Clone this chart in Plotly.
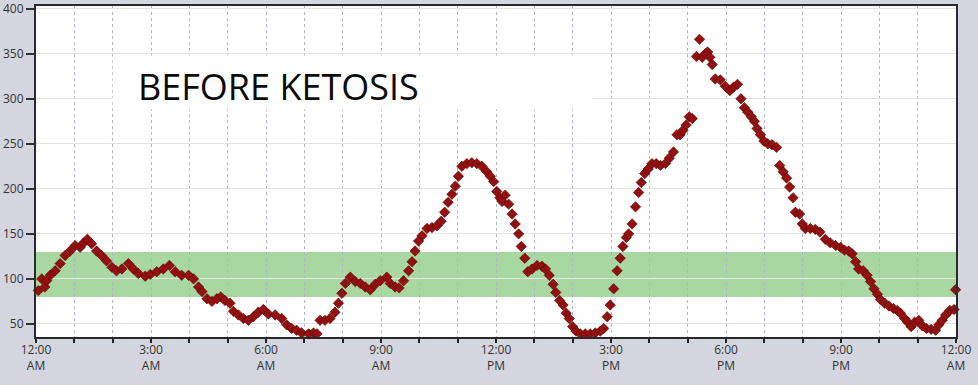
import plotly.graph_objects as go

# Time of day in hours after midnight, and glucose readings (mg/dL)
hours = [0.06, 0.15, 0.23, 0.28, 0.37, 0.50, 0.63, 0.76, 0.89, 1.02, 1.15, 1.24, 1.34, 1.45, 1.58, 1.71, 1.84, 1.98,
         2.10, 2.24, 2.41, 2.54, 2.67, 2.85, 2.98, 3.15, 3.32, 3.48, 3.63, 3.80, 3.98, 4.11, 4.24, 4.33, 4.46, 4.59,
         4.72, 4.82, 4.93, 5.06, 5.15, 5.28, 5.41, 5.54, 5.67, 5.80, 5.93, 6.06, 6.24, 6.41, 6.54, 6.67, 6.80, 6.93,
         7.11, 7.24, 7.33, 7.41, 7.54, 7.67, 7.80, 7.89, 7.98, 8.07, 8.20, 8.33, 8.46, 8.59, 8.72, 8.85, 8.98, 9.15,
         9.24, 9.37, 9.47, 9.59, 9.72, 9.81, 9.89, 9.98, 10.07, 10.20, 10.33, 10.46, 10.57, 10.66, 10.75, 10.85,
         10.94, 11.02, 11.11, 11.24, 11.37, 11.50, 11.63, 11.76, 11.85, 11.94, 12.02, 12.10, 12.16, 12.24, 12.33,
         12.42, 12.50, 12.59, 12.66, 12.75, 12.83, 12.94, 13.07, 13.20, 13.29, 13.39, 13.49, 13.56, 13.66, 13.75,
         13.83, 13.91, 14.00, 14.09, 14.20, 14.33, 14.46, 14.59, 14.72, 14.81, 14.90, 14.98, 15.07, 15.16, 15.24,
         15.31, 15.40, 15.46, 15.55, 15.64, 15.72, 15.79, 15.88, 15.97, 16.07, 16.18, 16.29, 16.42, 16.52, 16.63,
         16.72, 16.80, 16.88, 16.96, 17.04, 17.12, 17.23, 17.31, 17.38, 17.46, 17.52, 17.58, 17.64, 17.72, 17.85,
         17.98, 18.10, 18.20, 18.30, 18.39, 18.48, 18.57, 18.66, 18.74, 18.81, 18.90, 18.99, 19.09, 19.20, 19.32,
         19.40, 19.49, 19.58, 19.66, 19.75, 19.81, 19.92, 19.99, 20.07, 20.20, 20.33, 20.45, 20.59, 20.72, 20.86,
         20.99, 21.09, 21.20, 21.29, 21.38, 21.46, 21.58, 21.68, 21.77, 21.86, 21.95, 22.03, 22.14, 22.25, 22.37,
         22.47, 22.55, 22.66, 22.74, 22.83, 22.92, 23.03, 23.12, 23.23, 23.35, 23.47, 23.55, 23.64, 23.73, 23.84,
         23.95, 23.99]
glucose = [87, 100, 91, 98, 104, 109, 117, 126, 131, 137, 135, 140, 144, 139, 131, 126, 120, 113,
           109, 111, 117, 111, 106, 103, 105, 108, 111, 115, 108, 104, 104, 100, 91, 86, 78, 75,
           78, 80, 76, 73, 64, 60, 56, 54, 58, 63, 66, 61, 60, 56, 49, 45, 43, 40,
           39, 40, 39, 54, 54, 56, 63, 73, 84, 95, 102, 97, 95, 91, 88, 94, 98, 102,
           95, 91, 90, 98, 109, 119, 131, 142, 148, 156, 157, 159, 164, 174, 185, 194,
           203, 214, 225, 228, 229, 228, 225, 219, 214, 208, 197, 190, 186, 193, 183,
           172, 161, 150, 136, 123, 108, 111, 115, 114, 111, 104, 94, 85, 76, 71,
           62, 56, 47, 42, 39, 39, 39, 40, 42, 45, 58, 71, 89, 109, 123,
           136, 146, 150, 161, 180, 196, 207, 217, 222, 228, 228, 226, 228, 234, 241,
           260, 260, 265, 271, 280, 278, 347, 366, 346, 350, 352, 346, 338, 322, 321,
           314, 309, 313, 316, 300, 290, 285, 280, 275, 267, 260, 253, 250, 249, 246,
           226, 219, 212, 202, 190, 174, 172, 161, 156, 156, 155, 152, 144, 140, 137,
           135, 132, 131, 128, 119, 111, 109, 104, 97, 89, 83, 77, 73, 70, 67,
           65, 62, 56, 52, 47, 52, 54, 48, 45, 44, 43, 49, 54, 60, 65,
           66, 88]

target_low, target_high = 80, 130
y_ticks = [50, 100, 150, 200, 250, 300, 350, 400]
x_tick_hours = list(range(0, 25))
x_tick_labels = {0: "12:00<br>AM", 3: "3:00<br>AM", 6: "6:00<br>AM", 9: "9:00<br>AM",
                 12: "12:00<br>PM", 15: "3:00<br>PM", 18: "6:00<br>PM", 21: "9:00<br>PM", 24: "12:00<br>AM"}
title_text = "BEFORE KETOSIS"

FONT = "Open Sans, Segoe UI, sans-serif"

fig = go.Figure()
fig.add_trace(go.Scatter(
    x=hours, y=glucose, mode="markers",
    marker=dict(symbol="diamond", size=8, color="#931010",
                line=dict(color="#5a0404", width=0.6)),
    hoverinfo="x+y", showlegend=False, cliponaxis=False,
))

# target range band
fig.add_shape(type="rect", xref="x", yref="y", x0=0, x1=24, y0=target_low, y1=target_high,
              fillcolor="#a9d7a1", line=dict(width=0), layer="below")
# white label box
fig.add_shape(type="rect", xref="x", yref="y", x0=2.0, x1=14.5, y0=288, y1=348,
              fillcolor="white", line=dict(width=0), layer="between")
fig.add_annotation(x=2.6, y=314, xref="x", yref="y", text=title_text, showarrow=False,
                   xanchor="left", yanchor="middle",
                   font=dict(family=FONT, size=36, color="#0a0a0a"))

fig.update_xaxes(
    range=[0, 24], tickmode="array", tickvals=x_tick_hours,
    ticktext=[x_tick_labels.get(h, "") for h in x_tick_hours],
    ticks="outside", ticklen=4, tickwidth=2, tickcolor="#222222",
    ticklabelstandoff=-3,
    showgrid=True, gridcolor="#aeb7d0", griddash="dot", gridwidth=1,
    showline=True, linecolor="#2a2a2a", linewidth=2, mirror=True,
    zeroline=False, automargin=False,
    tickfont=dict(family=FONT, size=12, color="#333333"),
)
fig.update_yaxes(
    range=[35.5, 403], tickmode="array", tickvals=y_ticks,
    ticks="outside", ticklen=8, tickwidth=1.5, tickcolor="#333333",
    ticklabeloverflow="allow",
    showgrid=True, gridcolor="#e4e4e4", gridwidth=1,
    showline=True, linecolor="#2a2a2a", linewidth=2, mirror=True,
    zeroline=False, automargin=False,
    tickfont=dict(family=FONT, size=12, color="#333333"),
)
fig.update_layout(
    width=978, height=385,
    margin=dict(l=36, r=22, t=6, b=48),
    paper_bgcolor="#d3d6de", plot_bgcolor="white",
)
fig.write_html("out.html", config={"displayModeBar": False},
               post_script="document.body.style.margin='0';document.body.style.overflow='hidden';")
